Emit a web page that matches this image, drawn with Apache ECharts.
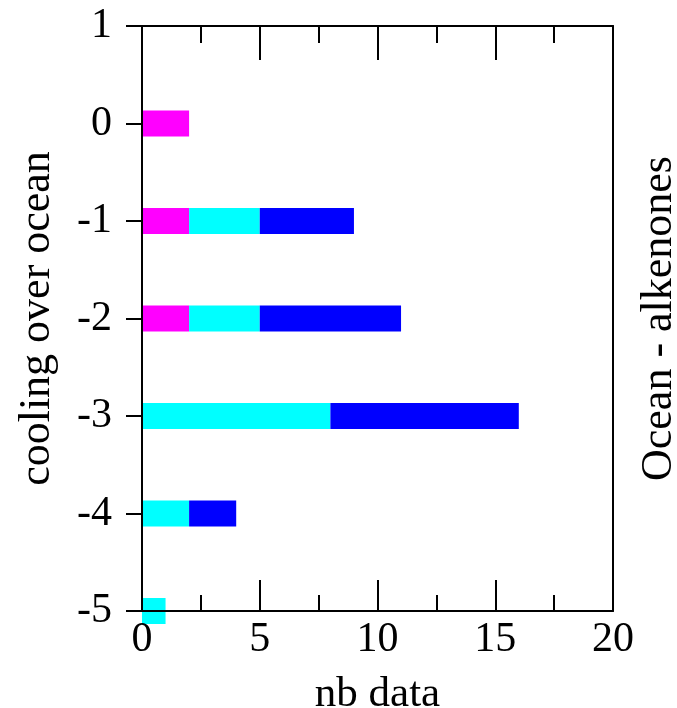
<!DOCTYPE html>
<html>
<head>
<meta charset="utf-8">
<script src="https://cdn.jsdelivr.net/npm/echarts@6/dist/echarts.min.js"></script>
<style>html,body{margin:0;padding:0;background:#fff;}#c{width:677px;height:708px;}</style>
</head>
<body>
<div id="c"></div>
<script>
var categories = ['-5', '-4', '-3', '-2', '-1', '0', '1'];
var magentaValues = [0, 0, 0, 2, 2, 2, 0];
var cyanValues = [1, 2, 8, 3, 3, 0, 0];
var blueValues = [0, 2, 8, 6, 4, 0, 0];
var xTicks = [0, 5, 10, 15, 20];

var FONT = 'Liberation Serif';
var chart = echarts.init(document.getElementById('c'), null, {renderer: 'canvas'});
var lineStyle = {color: '#000', width: 2};
chart.setOption({
  animation: false,
  backgroundColor: '#fff',
  grid: {left: 142, top: 26, width: 471, height: 585, containLabel: false, outerBoundsMode: 'none'},
  xAxis: [{
    type: 'value', position: 'bottom', min: xTicks[0], max: xTicks[xTicks.length - 1], interval: 5,
    z: 5,
    axisLine: {show: true, lineStyle: lineStyle},
    axisTick: {show: true, inside: true, length: 31, lineStyle: lineStyle},
    minorTick: {show: true, splitNumber: 2, length: 16, lineStyle: {color: '#000', width: 2}},
    splitLine: {show: false},
    axisLabel: {fontFamily: FONT, fontSize: 42, color: '#000', margin: 8},
    name: 'nb data', nameLocation: 'middle', nameGap: 62,
    nameTextStyle: {fontFamily: FONT, fontSize: 43, color: '#000'}
  }, {
    type: 'value', position: 'top', min: xTicks[0], max: xTicks[xTicks.length - 1], interval: 5,
    z: 5,
    axisLine: {show: true, onZero: false, lineStyle: lineStyle},
    axisTick: {show: true, inside: true, length: 34, lineStyle: lineStyle},
    minorTick: {show: true, splitNumber: 2, length: 17, lineStyle: {color: '#000', width: 2}},
    splitLine: {show: false},
    axisLabel: {show: false}
  }],
  yAxis: [{
    type: 'category', data: categories, boundaryGap: false, position: 'left',
    z: 5,
    axisLine: {show: true, onZero: false, lineStyle: lineStyle},
    axisTick: {show: true, inside: false, length: 16, lineStyle: lineStyle},
    splitLine: {show: false},
    axisLabel: {fontFamily: FONT, fontSize: 42, color: '#000', margin: 30},
    name: 'cooling over ocean', nameLocation: 'middle', nameGap: 83, nameRotate: 90,
    nameTextStyle: {fontFamily: FONT, fontSize: 44, color: '#000'}
  }, {
    type: 'category', data: categories, boundaryGap: false, position: 'right',
    z: 5,
    axisLine: {show: true, onZero: false, lineStyle: lineStyle},
    axisTick: {show: false},
    axisLabel: {show: false},
    splitLine: {show: false},
    name: 'Ocean - alkenones', nameLocation: 'middle', nameGap: 24, nameRotate: 90,
    nameTextStyle: {fontFamily: FONT, fontSize: 44, color: '#000'}
  }],
  series: [
    {type: 'bar', name: 'magenta', stack: 's', data: magentaValues, barWidth: 26, clip: false, z: 2,
     itemStyle: {color: '#ff00ff'}},
    {type: 'bar', name: 'cyan', stack: 's', data: cyanValues, barWidth: 26, clip: false, z: 2,
     itemStyle: {color: '#00ffff'}},
    {type: 'bar', name: 'blue', stack: 's', data: blueValues, barWidth: 26, clip: false, z: 2,
     itemStyle: {color: '#0000ff'}}
  ]
});
</script>
</body>
</html>
